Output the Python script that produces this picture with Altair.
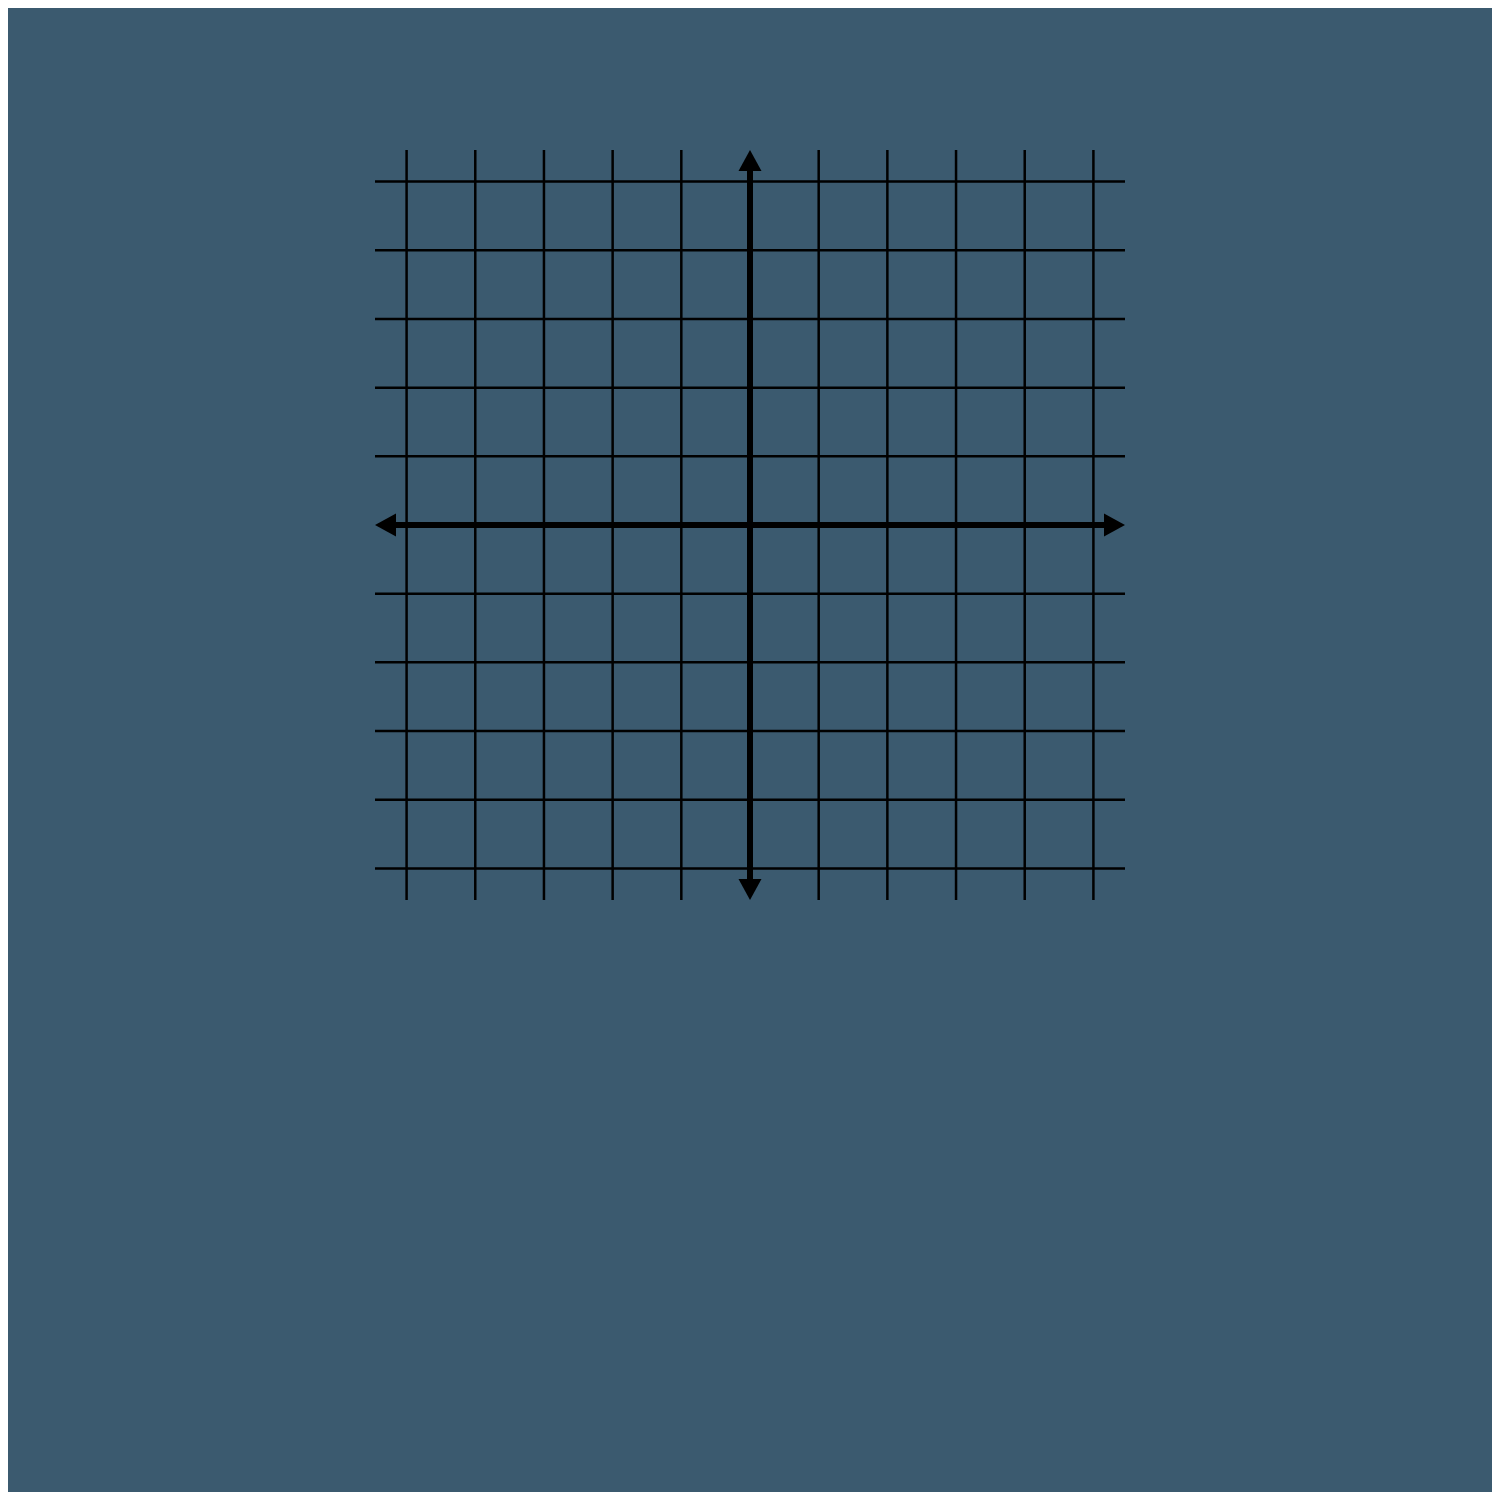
import altair as alt
import pandas as pd

# grid positions (axis lines at 0 are drawn separately)
grid_ticks = [-5, -4, -3, -2, -1, 1, 2, 3, 4, 5]
axis_extent = 5.46
shaft_end = 5.2

arrow_dirs = ['up', 'down', 'left', 'right']
arrow_x = [0, 0, -axis_extent, axis_extent]
arrow_y = [axis_extent, -axis_extent, 0, 0]

bg = '#3b5a6f'

x_scale = alt.Scale(domain=[-axis_extent, axis_extent], nice=False, zero=False)
y_scale = alt.Scale(domain=[-axis_extent, axis_extent], nice=False, zero=False)

grid_df = pd.DataFrame({'v': grid_ticks})
arrows_df = pd.DataFrame({'x': arrow_x, 'y': arrow_y, 'dir': arrow_dirs})
shaft_df = pd.DataFrame({'lo': [-shaft_end], 'hi': [shaft_end], 'zero': [0]})

v_grid = alt.Chart(grid_df).mark_rule(color='black', strokeWidth=2.5).encode(
    x=alt.X('v:Q', scale=x_scale, axis=None)
)
h_grid = alt.Chart(grid_df).mark_rule(color='black', strokeWidth=2.5).encode(
    y=alt.Y('v:Q', scale=y_scale, axis=None)
)

v_axis = alt.Chart(shaft_df).mark_rule(color='black', strokeWidth=6).encode(
    x=alt.X('zero:Q', scale=x_scale, axis=None),
    y=alt.Y('lo:Q', scale=y_scale, axis=None),
    y2='hi:Q'
)
h_axis = alt.Chart(shaft_df).mark_rule(color='black', strokeWidth=6).encode(
    y=alt.Y('zero:Q', scale=y_scale, axis=None),
    x=alt.X('lo:Q', scale=x_scale, axis=None),
    x2='hi:Q'
)

# arrowhead paths with the tip at the anchor point
arrow_paths = [
    'M0,0L-1.15,2.1L1.15,2.1Z',
    'M0,0L-1.15,-2.1L1.15,-2.1Z',
    'M0,0L2.1,-1.15L2.1,1.15Z',
    'M0,0L-2.1,-1.15L-2.1,1.15Z',
]
arrows = alt.Chart(arrows_df).mark_point(filled=True, opacity=1, color='black', strokeWidth=0, size=400).encode(
    x=alt.X('x:Q', scale=x_scale, axis=None),
    y=alt.Y('y:Q', scale=y_scale, axis=None),
    shape=alt.Shape('dir:N', scale=alt.Scale(domain=arrow_dirs, range=arrow_paths), legend=None)
)

chart = alt.layer(v_grid, h_grid, v_axis, h_axis, arrows).properties(
    width=750,
    height=750,
    padding={'left': 367, 'top': 142, 'right': 367, 'bottom': 592},
    autosize=alt.AutoSizeParams(type='none'),
    background=bg
).configure_view(stroke=None)

chart.save("out.html", embed_options={"renderer": "svg", "actions": False})
